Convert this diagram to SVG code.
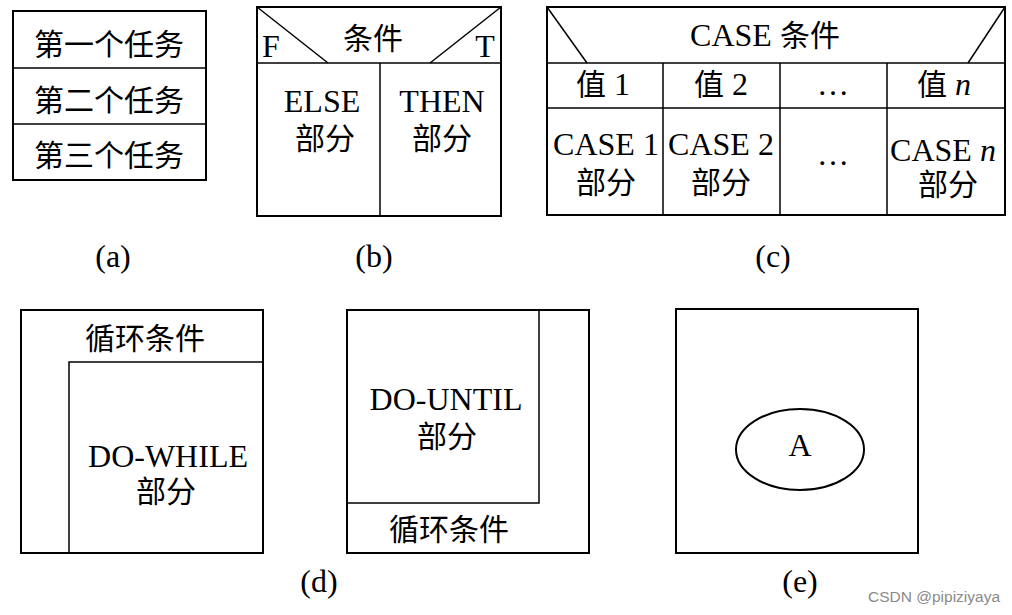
<svg xmlns="http://www.w3.org/2000/svg" width="1012" height="615" viewBox="0 0 1012 615">
<style>
text{font-family:"Liberation Serif","Noto Sans CJK SC",serif;font-size:32px;fill:#000;text-anchor:middle}
.zh{font-size:30px}
.o{fill:none;stroke:#000;stroke-width:2}
.i{fill:none;stroke:#000;stroke-width:1.5}
.wm{font-family:"Liberation Sans","Noto Sans",sans-serif;font-size:15.5px;fill:#8a8a8a;text-anchor:start}
</style>
<rect width="1012" height="615" fill="#fff"/>
<g id="a">
<rect class="o" x="13" y="11" width="193" height="169"/>
<line class="i" x1="13" y1="68" x2="206" y2="68"/>
<line class="i" x1="13" y1="124" x2="206" y2="124"/>
<text class="zh" x="109" y="55">第一个任务</text>
<text class="zh" x="109" y="111">第二个任务</text>
<text class="zh" x="109" y="166">第三个任务</text>
<text x="113" y="267">(a)</text>
</g>
<g id="b">
<rect class="o" x="257" y="7" width="244" height="209"/>
<line class="i" x1="257" y1="63" x2="501" y2="63"/>
<line class="i" x1="380" y1="63" x2="380" y2="216"/>
<line class="i" x1="257" y1="7" x2="328" y2="63"/>
<line class="i" x1="501" y1="7" x2="430" y2="63"/>
<text x="271" y="57">F</text>
<text x="485" y="57">T</text>
<text class="zh" x="373" y="49">条件</text>
<text x="322" y="112">ELSE</text>
<text class="zh" x="325" y="149">部分</text>
<text x="442" y="112">THEN</text>
<text class="zh" x="442" y="149">部分</text>
<text x="374" y="267">(b)</text>
</g>
<g id="c">
<rect class="o" x="547" y="7" width="458" height="208"/>
<line class="i" x1="547" y1="63" x2="1005" y2="63"/>
<line class="i" x1="547" y1="108" x2="1005" y2="108"/>
<line class="i" x1="663" y1="63" x2="663" y2="215"/>
<line class="i" x1="780" y1="63" x2="780" y2="215"/>
<line class="i" x1="887" y1="63" x2="887" y2="215"/>
<line class="i" x1="547" y1="7" x2="587" y2="63"/>
<line class="i" x1="1005" y1="7" x2="968" y2="63"/>
<text x="765" y="46">CASE <tspan class="zh">条件</tspan></text>
<text x="603" y="95"><tspan class="zh">值</tspan> 1</text>
<text x="721" y="95"><tspan class="zh">值</tspan> 2</text>
<text x="833" y="95">…</text>
<text x="944" y="95"><tspan class="zh">值</tspan> <tspan font-style="italic">n</tspan></text>
<text x="606" y="155">CASE 1</text>
<text class="zh" x="606" y="193">部分</text>
<text x="721" y="155">CASE 2</text>
<text class="zh" x="721" y="193">部分</text>
<text x="833" y="165">…</text>
<text x="943" y="161">CASE <tspan font-style="italic">n</tspan></text>
<text class="zh" x="948" y="195">部分</text>
<text x="773" y="267">(c)</text>
</g>
<g id="d">
<rect class="o" x="21" y="310" width="242" height="243"/>
<polyline class="i" points="69,553 69,362 263,362"/>
<text class="zh" x="145" y="349">循环条件</text>
<text x="168" y="467">DO-WHILE</text>
<text class="zh" x="166" y="502">部分</text>
<text x="319" y="592">(d)</text>
</g>
<g id="d2">
<rect class="o" x="347" y="310" width="242" height="243"/>
<polyline class="i" points="347,503 539,503 539,310"/>
<text x="446" y="410">DO-UNTIL</text>
<text class="zh" x="447" y="447">部分</text>
<text class="zh" x="449" y="540">循环条件</text>
</g>
<g id="e">
<rect class="o" x="676" y="309" width="242" height="244"/>
<ellipse class="o" cx="800" cy="449.5" rx="64" ry="40.5"/>
<text x="800" y="456">A</text>
<text x="800" y="592">(e)</text>
</g>
<g id="connectors"></g>
<text class="wm" x="868" y="602">CSDN @pipiziyaya</text>
</svg>
